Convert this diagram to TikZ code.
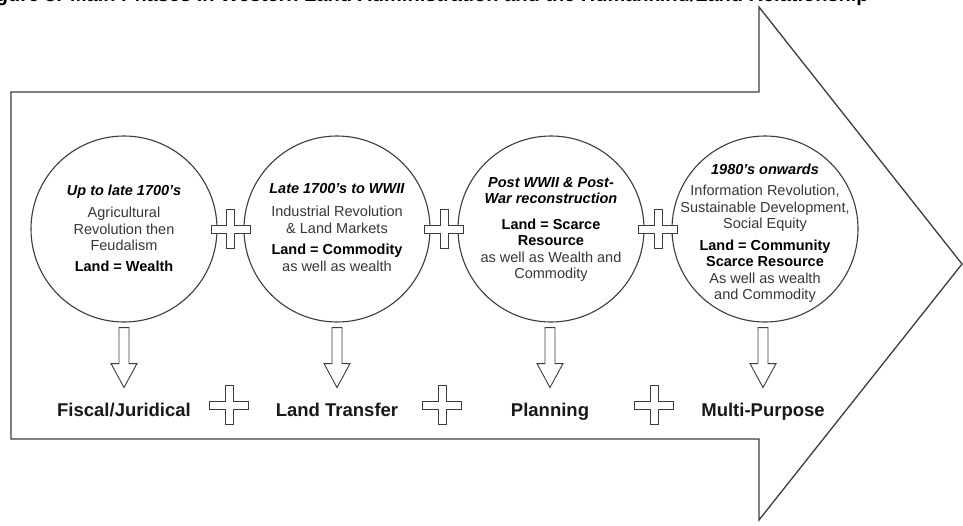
\documentclass[tikz,border=0pt]{standalone}
\usepackage{fontspec}
\setmainfont{Liberation Sans}
\usetikzlibrary{calc}
\definecolor{linegray}{RGB}{60,60,60}
\definecolor{textgray}{RGB}{55,55,55}
\tikzset{
  outline/.style={draw=linegray, line width=1.3pt, line join=miter},
  phase/.style={circle, draw=linegray, line width=1.1pt, minimum size=186pt, inner sep=0pt},
  phasetext/.style={align=center, inner sep=0pt, text=textgray,
    font=\fontsize{14.5}{16.5}\selectfont},
  phaselabel/.style={font=\bfseries\fontsize{18.5}{20}\selectfont, text=black!90, anchor=base},
  titletext/.style={font=\bfseries\fontsize{20}{22}\selectfont, anchor=base west, inner sep=0pt},
  plusline/.style={draw=linegray, line width=0.9pt, fill=white},
  plus/.pic={
    \path[plusline] (-4,-19.5) -- (4,-19.5) -- (4,-4) -- (19.5,-4) -- (19.5,4) -- (4,4)
      -- (4,19.5) -- (-4,19.5) -- (-4,4) -- (-19.5,4) -- (-19.5,-4) -- (-4,-4) -- cycle;
  },
  blockdown/.pic={
    \path[plusline] (-5,0) -- (5,0) -- (5,36) -- (13,36) -- (0,60) -- (-13,36) -- (-5,36) -- cycle;
  }
}
\newcommand{\hd}[1]{\textbf{\textit{#1}}}
\newcommand{\bd}[1]{\textcolor{black}{\textbf{#1}}}

\begin{document}
\begin{tikzpicture}[x=1pt, y=-1pt]
  \useasboundingbox (0,0) rectangle (963,525);
  \fill[white] (0,0) rectangle (963,525);

  \begin{scope}
    \clip (0,0) rectangle (963,525);
    % caption running off the top edge
    \node[titletext] (title) at (-22,1.5) {Figure 3: Main Phases in Western Land Administration and the Humankind/Land Relationship};
    % large process arrow
    \draw[outline] (11,92) -- (759,92) -- (759,7) -- (962,264) -- (759,520) -- (759,439) -- (11,439) -- cycle;
  \end{scope}

  % phases
  \node[phase] (c1) at (124,229) {};
  \node[phase] (c2) at (337,229) {};
  \node[phase] (c3) at (551,229) {};
  \node[phase] (c4) at (765,229) {};

  \node[phasetext] (t1) at ($(c1)+(0,-1)$) {\bd{\hd{Up to late 1700’s}}\\[6pt]
    Agricultural\\ Revolution then\\ Feudalism\\[4pt] \bd{Land = Wealth}};
  \node[phasetext] (t2) at ($(c2)+(0,-1.5)$) {\bd{\hd{Late 1700’s to WWII}}\\[7pt]
    Industrial Revolution\\ \& Land Markets\\[5pt] \bd{Land = Commodity}\\ as well as wealth};
  \node[phasetext] (t3) at ($(c3)+(0,0.5)$) {\bd{\hd{Post WWII \& Post-}}\\ \bd{\hd{War reconstruction}}\\[9pt]
    \bd{Land = Scarce}\\ \bd{Resource}\\ as well as Wealth and\\ Commodity};
  \node[phasetext] (t4) at ($(c4)+(0,4)$) {\bd{\hd{1980’s onwards}}\\[5pt]
    Information Revolution,\\ Sustainable Development,\\ Social Equity\\[5pt]
    \bd{Land = Community}\\ \bd{Scarce Resource}\\ As well as wealth\\ and Commodity};

  % joins between phases
  \pic at ($(c1.east)!0.5!(c2.west)$) {plus};
  \pic at ($(c2.east)!0.5!(c3.west)$) {plus};
  \pic at ($(c3.east)!0.5!(c4.west)$) {plus};

  % outcomes
  \node[phaselabel] (l1) at (124,416.5) {Fiscal/Juridical};
  \node[phaselabel] (l2) at (337,416.5) {Land Transfer};
  \node[phaselabel] (l3) at (550,416.5) {Planning};
  \node[phaselabel] (l4) at (763,416.5) {Multi-Purpose};

  \pic at ($(c1.south)+(0,5)$) {blockdown};
  \pic at ($(c2.south)+(0,5)$) {blockdown};
  \pic at ($(c3.south)+(-1,5)$) {blockdown};
  \pic at ($(c4.south)+(-2,5)$) {blockdown};

  \pic at (229,405) {plus};
  \pic at (442,405) {plus};
  \pic at (654,405) {plus};
\end{tikzpicture}
\end{document}
